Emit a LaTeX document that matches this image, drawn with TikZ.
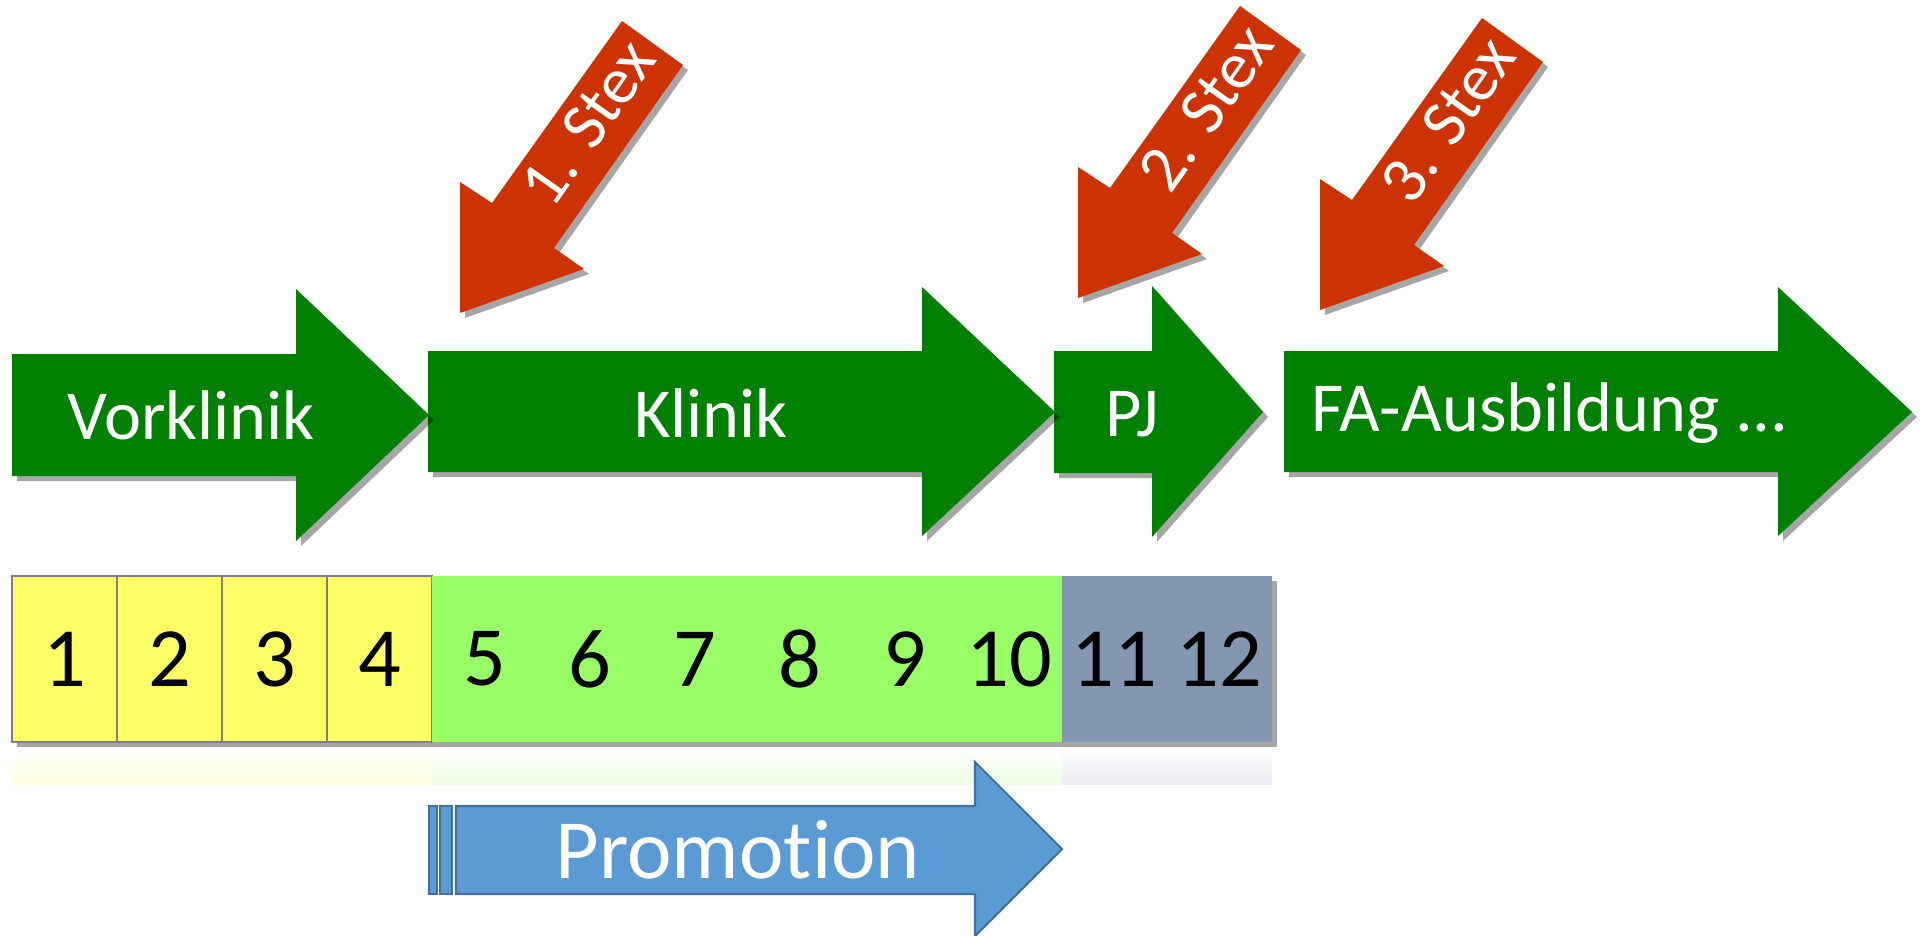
\documentclass[tikz,border=0pt]{standalone}
\usepackage{fontspec}
\setmainfont[Ligatures=NoCommon]{Carlito}
\usetikzlibrary{shadows,fadings}
\definecolor{phasegreen}{HTML}{008000}
\definecolor{stexred}{HTML}{CC3300}
\definecolor{semyellow}{HTML}{FFFF66}
\definecolor{semgreen}{HTML}{99FF66}
\definecolor{semgray}{HTML}{8497B0}
\definecolor{promoblue}{HTML}{5B9BD5}
\definecolor{promoline}{HTML}{41719C}
\tikzset{
  softshadow/.style={drop shadow={shadow xshift=.1cm, shadow yshift=-.1cm, opacity=.35, fill=black}},
  phase/.style={fill=phasegreen, softshadow},
  phaselabel/.style={text=white, inner sep=0pt, font=\fontsize{40}{48}\selectfont},
  stexarrow/.style={fill=stexred, softshadow},
  stexlabel/.style={text=white, inner sep=0pt, rotate=54.8, font=\fontsize{38}{44}\selectfont},
  sem/.style={minimum width=2.1cm, minimum height=3.32cm, inner sep=0pt, softshadow,
    font=\fontsize{48}{56}\selectfont},
  reflect/.style={fill opacity=.18, path fading=north},
}
\begin{document}
\begin{tikzpicture}[x=0.02cm, y=-0.02cm]
  \useasboundingbox (0,0) rectangle (1923,936);
  % phases
  \fill[phase] (1284,351) -- (1778,351) -- (1778,287) -- (1912,412) -- (1778,536) -- (1778,472) -- (1284,472) -- cycle;
  \fill[phase] (1054,351) -- (1152,351) -- (1152,286) -- (1263,412) -- (1152,537) -- (1152,473) -- (1054,473) -- cycle;
  \fill[phase] (428,351) -- (922,351) -- (922,287) -- (1055,412) -- (922,536) -- (922,472) -- (428,472) -- cycle;
  \fill[phase] (12,354) -- (296,354) -- (296,289) -- (429,415) -- (296,541) -- (296,476) -- (12,476) -- cycle;
  \node[phaselabel] (vorklinik) at (191,415) {Vorklinik};
  \node[phaselabel] (klinik) at (711,413) {Klinik};
  \node[phaselabel] (pj) at (1132,414) {PJ};
  \node[phaselabel] (fa) at (1550,413) {FA-Ausbildung ...};
  % Staatsexamen
  \begin{scope}[shift={(460,313)}]
    \fill[stexarrow] (0,0) -- (0,-131) -- (32,-110) -- (162,-292) -- (223,-248) -- (94,-65) -- (124,-44) -- cycle;
    \node[stexlabel] (stex1) at (128,-190) {1. Stex};
  \end{scope}
  \begin{scope}[shift={(1078,298)}]
    \fill[stexarrow] (0,0) -- (0,-131) -- (32,-110) -- (162,-292) -- (223,-248) -- (94,-65) -- (124,-44) -- cycle;
    \node[stexlabel] (stex2) at (128,-190) {2. Stex};
  \end{scope}
  \begin{scope}[shift={(1320,310)}]
    \fill[stexarrow] (0,0) -- (0,-131) -- (32,-110) -- (162,-292) -- (223,-248) -- (94,-65) -- (124,-44) -- cycle;
    \node[stexlabel] (stex3) at (128,-190) {3. Stex};
  \end{scope}
  % semesters
  \fill[semyellow, reflect] (12,746) rectangle (432,785);
  \fill[semgreen, reflect] (432,746) rectangle (1062,785);
  \fill[semgray, reflect] (1062,746) rectangle (1272,785);
  \node[sem, fill=semyellow, draw=gray, line width=1.2pt] (s1) at (64.5,659) {1};
  \node[sem, fill=semyellow, draw=gray, line width=1.2pt] (s2) at (169.5,659) {2};
  \node[sem, fill=semyellow, draw=gray, line width=1.2pt] (s3) at (274.5,659) {3};
  \node[sem, fill=semyellow, draw=gray, line width=1.2pt] (s4) at (379.5,659) {4};
  \node[sem, fill=semgreen] (s5) at (484.5,659) {5};
  \node[sem, fill=semgreen] (s6) at (589.5,659) {6};
  \node[sem, fill=semgreen] (s7) at (694.5,659) {7};
  \node[sem, fill=semgreen] (s8) at (799.5,659) {8};
  \node[sem, fill=semgreen] (s9) at (904.5,659) {9};
  \node[sem, fill=semgreen] (s10) at (1009.5,659) {10};
  \node[sem, fill=semgray] (s11) at (1114.5,659) {11};
  \node[sem, fill=semgray] (s12) at (1219.5,659) {12};
  % Promotion
  \filldraw[promoblue, draw=promoline, line width=1.2pt] (429,806) rectangle (437,894);
  \filldraw[promoblue, draw=promoline, line width=1.2pt] (440,806) rectangle (452,894);
  \filldraw[promoblue, draw=promoline, line width=1.2pt] (456,806) -- (975,806) -- (975,762) -- (1062,849) -- (975,936) -- (975,894) -- (456,894) -- cycle;
  \node[text=white, inner sep=0pt, font=\fontsize{48}{56}\selectfont] (promotion) at (738,850) {Promotion};
\end{tikzpicture}
\end{document}
